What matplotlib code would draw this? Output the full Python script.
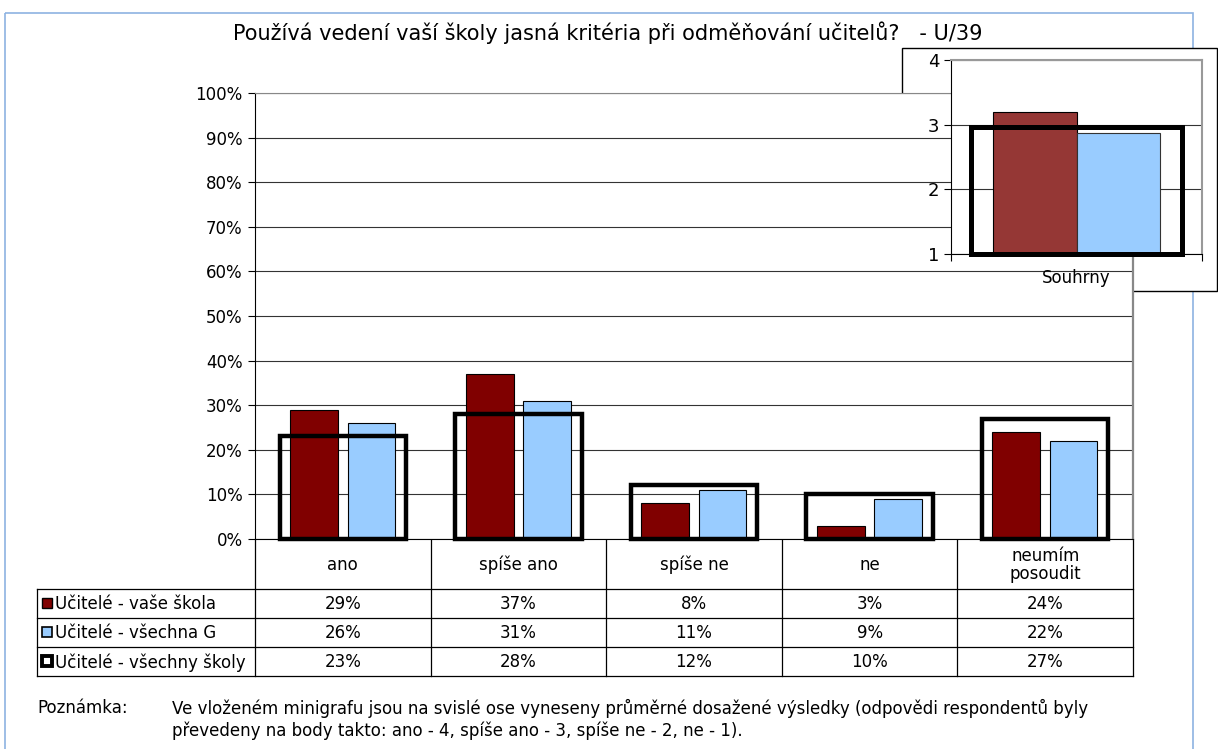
import numpy as np
import matplotlib.pyplot as plt
from matplotlib.patches import Rectangle
from matplotlib.lines import Line2D

plt.rcParams['font.family'] = ['DejaVu Sans']

categories = ['ano', 'spíše ano', 'spíše ne', 'ne', 'neumím\nposoudit']
series_names = ['Učitelé - vaše škola', 'Učitelé - všechna G', 'Učitelé - všechny školy']
skola = [29, 37, 8, 3, 24]
vsechna_g = [26, 31, 11, 9, 22]
vsechny_skoly = [23, 28, 12, 10, 27]
# inset averages
inset_label = 'Souhrny'
avg_skola = 3.2
avg_g = 2.87
avg_vsechny = 2.96

title = 'Používá vedení vaší školy jasná kritéria při odměňování učitelů?   - U/39'
note_head = 'Poznámka:'
note_lines = ['Ve vloženém minigrafu jsou na svislé ose vyneseny průměrné dosažené výsledky (odpovědi respondentů byly',
              'převedeny na body takto: ano - 4, spíše ano - 3, spíše ne - 2, ne - 1).']

maroon = '#800000'
lblue = '#99ccff'
W, H = 1218, 749

fig = plt.figure(figsize=(W / 100, H / 100), dpi=100)

# background axes in pixel coordinates
bg = fig.add_axes([0, 0, 1, 1])
bg.set_xlim(0, W)
bg.set_ylim(H, 0)
bg.axis('off')


def px_axes(l, t, r, b):
    return fig.add_axes([l / W, 1 - b / H, (r - l) / W, (b - t) / H])


# outer frame
bg.add_patch(Rectangle((5, 13), 1188, 760, fill=False, ec='#8db3e2', lw=1.2))
bg.text(608, 33, title, ha='center', va='center', fontsize=15)

# main chart
L, T, R, B = 255, 93, 1133, 539
ax = px_axes(L, T, R, B)
x = np.arange(len(categories))
ax.bar(x - 0.164, skola, 0.273, color=maroon, ec='black', lw=0.8, zorder=3)
ax.bar(x + 0.162, vsechna_g, 0.27, color=lblue, ec='black', lw=0.8, zorder=3)
ax.bar(x, vsechny_skoly, 0.72, fill=False, ec='black', lw=3.2, zorder=4, clip_on=False)
ax.set_xlim(-0.5, len(categories) - 0.5)
ax.set_ylim(0, 100)
ax.set_yticks(np.arange(0, 101, 10))
ax.set_yticklabels([f'{v}%' for v in range(0, 101, 10)], fontsize=12)
ax.set_xticks([])
ax.yaxis.grid(True, color='#333333', lw=0.8)
ax.set_axisbelow(True)
ax.tick_params(axis='y', length=5, width=0.8, pad=4)
ax.spines['top'].set_color('#888888')
ax.spines['right'].set_color('#888888')
ax.spines['right'].set_linewidth(1.6)
ax.spines['left'].set_linewidth(0.8)
ax.spines['bottom'].set_linewidth(0.8)

# data table below the chart
cw = (R - L) / len(categories)
rows = [B, 589, 617.5, 646.5, 676]
tl = 37
lc = 'black'
for i in range(len(categories) + 1):
    bg.add_line(Line2D([L + i * cw] * 2, [B, rows[-1]], color=lc, lw=0.9))
bg.add_line(Line2D([tl, tl], [rows[1], rows[-1]], color=lc, lw=0.9))
for yy in rows[1:]:
    bg.add_line(Line2D([tl, R], [yy, yy], color=lc, lw=0.9))
for i, c in enumerate(categories):
    bg.text(L + (i + 0.5) * cw, (rows[0] + rows[1]) / 2 + 1, c, ha='center', va='center',
            fontsize=12, linespacing=1.0)
vals = [skola, vsechna_g, vsechny_skoly]
for r, (name, vv) in enumerate(zip(series_names, vals)):
    yc = (rows[r + 1] + rows[r + 2]) / 2
    for i, v in enumerate(vv):
        bg.text(L + (i + 0.5) * cw, yc + 1, f'{v}%', ha='center', va='center', fontsize=12)
    bg.text(55, yc + 1, name, ha='left', va='center', fontsize=12)
    if r == 0:
        bg.add_patch(Rectangle((42, yc - 5), 10, 10, fc=maroon, ec='black', lw=1))
    elif r == 1:
        bg.add_patch(Rectangle((42, yc - 5), 10, 10, fc=lblue, ec='black', lw=1.2))
    else:
        bg.add_patch(Rectangle((42, yc - 5), 10, 10, fc='white', ec='black', lw=2.8))

# note
bg.text(37, 708, note_head, ha='left', va='center', fontsize=12)
for k, line in enumerate(note_lines):
    bg.text(172, 708 + 23 * k, line, ha='left', va='center', fontsize=12)

# inset
bg.add_patch(Rectangle((902, 48), 315, 243, fc='white', ec='black', lw=1, zorder=5))
ia = px_axes(951, 60, 1202, 254)
ia.set_zorder(6)
ia.bar(-0.167, avg_skola - 1, 0.335, bottom=1, color='#953735', ec='black', lw=0.8, zorder=3)
ia.bar(0.167, avg_g - 1, 0.33, bottom=1, color=lblue, ec='#333333', lw=0.8, zorder=3)
ia.bar(0, avg_vsechny - 1, 0.84, bottom=1, fill=False, ec='black', lw=3.6, zorder=4, clip_on=False)
ia.set_xlim(-0.5, 0.5)
ia.set_ylim(1, 4)
ia.set_yticks([1, 2, 3, 4])
ia.set_yticklabels(['1', '2', '3', '4'], fontsize=13)
ia.set_xticks([-0.5, 0.5])
ia.set_xticklabels(['', ''])
ia.tick_params(length=5, width=0.8)
ia.yaxis.grid(True, color='#333333', lw=0.8)
ia.set_axisbelow(True)
ia.spines['top'].set_color('#999999')
ia.spines['right'].set_color('#999999')
ia.spines['top'].set_linewidth(1.5)
ia.spines['right'].set_linewidth(1.5)
ia.text(0, -0.124, inset_label, transform=ia.get_xaxis_transform(), ha='center', va='center', fontsize=12)

fig.savefig('out.png', dpi=100)
